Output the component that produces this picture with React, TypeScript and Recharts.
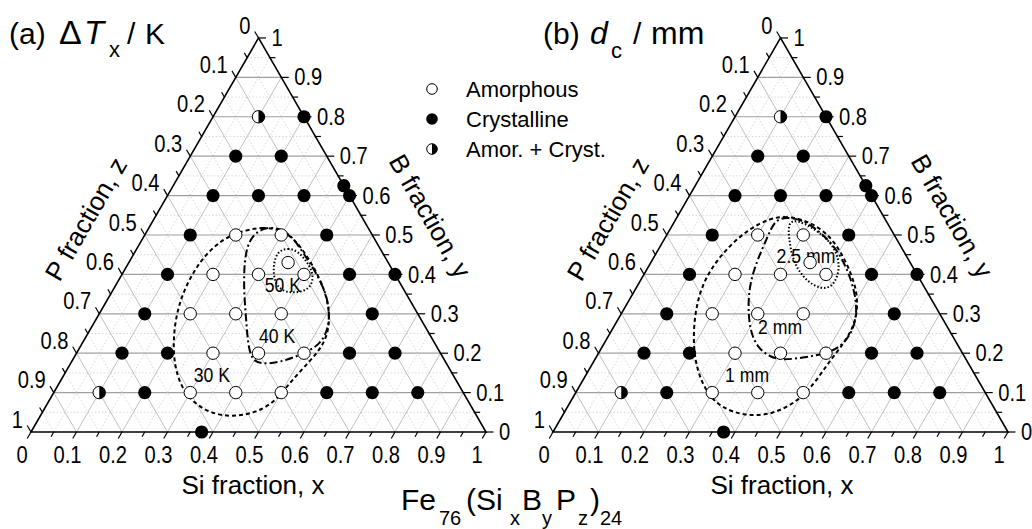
import React from 'react';
import { ScatterChart, Scatter, XAxis, YAxis, ReferenceLine } from 'recharts';

type Pair = [number, number]; // [Si fraction x, B fraction y]

// ---- sample compositions Fe76(SixByPz)24 ----
const amorphousSi = [0.2, 0.3, 0.35, 0.2, 0.3, 0.4, 0.2, 0.3, 0.4, 0.3, 0.4, 0.5, 0.3, 0.4, 0.5];
const amorphousB = [0.5, 0.5, 0.43, 0.4, 0.4, 0.4, 0.3, 0.3, 0.3, 0.2, 0.2, 0.2, 0.1, 0.1, 0.1];

const crystallineSi = [0.2, 0.1, 0.2, 0.375, 0.1, 0.2, 0.3, 0.4, 0.1, 0.4, 0.1, 0.5, 0.6, 0.1, 0.6, 0.1, 0.2, 0.6, 0.7, 0.2, 0.6, 0.7, 0.8, 0.375];
const crystallineB = [0.8, 0.7, 0.7, 0.625, 0.6, 0.6, 0.6, 0.6, 0.5, 0.5, 0.4, 0.4, 0.4, 0.3, 0.3, 0.2, 0.2, 0.2, 0.2, 0.1, 0.1, 0.1, 0.1, 0];

const mixedSi = [0.1, 0.1];
const mixedB = [0.8, 0.1];

// ---- axis ticks ----
const tickValues = [0, 0.1, 0.2, 0.3, 0.4, 0.5, 0.6, 0.7, 0.8, 0.9, 1];
const tickLabels = ['0', '0.1', '0.2', '0.3', '0.4', '0.5', '0.6', '0.7', '0.8', '0.9', '1'];

// ---- (a) ΔTx contours ----
const contour30K: Pair[] = [
  [0.198, 0.506], [0.247, 0.522], [0.303, 0.511], [0.355, 0.473], [0.408, 0.423], [0.462, 0.365],
  [0.505, 0.304], [0.530, 0.246], [0.530, 0.203], [0.517, 0.162], [0.505, 0.119], [0.498, 0.076],
  [0.468, 0.048], [0.423, 0.038], [0.369, 0.048], [0.318, 0.076], [0.273, 0.114], [0.230, 0.170],
  [0.196, 0.233], [0.171, 0.296], [0.157, 0.354], [0.154, 0.405], [0.158, 0.448], [0.174, 0.484],
];
const contour40K: Pair[] = [
  [0.256, 0.522], [0.297, 0.514], [0.332, 0.491], [0.378, 0.448], [0.424, 0.405], [0.471, 0.354],
  [0.507, 0.301], [0.525, 0.251], [0.522, 0.218], [0.494, 0.195], [0.459, 0.177], [0.422, 0.172],
  [0.395, 0.182], [0.367, 0.220], [0.331, 0.284], [0.295, 0.347], [0.263, 0.410], [0.242, 0.461],
  [0.236, 0.499],
];
const contour50K: Pair[] = [
  [0.312, 0.458], [0.331, 0.468], [0.358, 0.458], [0.387, 0.435], [0.413, 0.410], [0.429, 0.382],
  [0.428, 0.362], [0.410, 0.354], [0.385, 0.354], [0.359, 0.367], [0.339, 0.390], [0.321, 0.423],
];
const contourLabelsA = ['30 K', '40 K', '50 K'];
const contourAnchorsA: Pair[] = [[0.324, 0.147], [0.418, 0.246], [0.366, 0.375]];

// ---- (b) critical diameter contours ----
const contour1mm: Pair[] = [
  [0.206, 0.542], [0.234, 0.547], [0.268, 0.542], [0.310, 0.527], [0.357, 0.499], [0.400, 0.461],
  [0.443, 0.415], [0.484, 0.365], [0.513, 0.314], [0.527, 0.268], [0.527, 0.225], [0.518, 0.182],
  [0.514, 0.132], [0.502, 0.081], [0.460, 0.043], [0.400, 0.041], [0.341, 0.061], [0.294, 0.094],
  [0.241, 0.152], [0.195, 0.225], [0.160, 0.304], [0.141, 0.372], [0.141, 0.430], [0.154, 0.479],
  [0.175, 0.517],
];
const contour2mm: Pair[] = [
  [0.227, 0.544], [0.258, 0.544], [0.300, 0.529], [0.376, 0.479], [0.437, 0.418], [0.488, 0.352],
  [0.518, 0.301], [0.532, 0.251], [0.523, 0.215], [0.502, 0.200], [0.463, 0.190], [0.414, 0.182],
  [0.382, 0.190], [0.341, 0.215], [0.304, 0.258], [0.270, 0.317], [0.244, 0.377], [0.231, 0.435],
  [0.224, 0.494], [0.220, 0.527],
];
const contour25mm: Pair[] = [
  [0.249, 0.534], [0.276, 0.486], [0.310, 0.435], [0.350, 0.395], [0.389, 0.370], [0.419, 0.362],
  [0.431, 0.377], [0.423, 0.415], [0.396, 0.456], [0.357, 0.491], [0.310, 0.519], [0.270, 0.537],
];
const contourLabelsB = ['1 mm', '2 mm', '2.5 mm'];
const contourAnchorsB: Pair[] = [[0.353, 0.147], [0.365, 0.268], [0.332, 0.448]];

// ---- drawing geometry ----
const W = 1032;
const H = 529;
const SIDE = 455; // triangle side in px
const SQ3 = Math.sqrt(3) / 2;
const X0 = -31 / SIDE;
const X1 = X0 + W / SIDE;
const Y0 = -(H - 432) / SIDE;
const Y1 = Y0 + H / SIDE;
const PANEL_SHIFT = [0, 522 / SIDE];

const SANS = '"Liberation Sans", Arial, sans-serif';

const tern = (si: number, b: number, panel: number) => ({
  X: si + b / 2 + PANEL_SHIFT[panel],
  Y: b * SQ3,
});

type Seg = { a: { X: number; Y: number }; b: { X: number; Y: number }; major: boolean; horiz: boolean };

function gridSegments(panel: number): Seg[] {
  const out: Seg[] = [];
  for (let k = 1; k < 20; k++) {
    const v = k / 20;
    const major = k % 2 === 0;
    out.push({ a: tern(0, v, panel), b: tern(1 - v, v, panel), major, horiz: true });
    out.push({ a: tern(v, 0, panel), b: tern(v, 1 - v, panel), major, horiz: false });
    out.push({ a: tern(0, 1 - v, panel), b: tern(1 - v, 0, panel), major, horiz: false });
  }
  return out;
}

function tickSegments(panel: number): Seg[] {
  const out: Seg[] = [];
  for (let k = 0; k <= 20; k++) {
    const v = k / 20;
    const len = (k % 2 === 0 ? 7.5 : 5.5) / SIDE;
    const s = tern(v, 0, panel);
    out.push({ a: s, b: { X: s.X - 0.5 * len, Y: s.Y - SQ3 * len }, major: true, horiz: false });
    const r = tern(1 - v, v, panel);
    out.push({ a: r, b: { X: r.X + len, Y: r.Y }, major: true, horiz: false });
    const l = tern(0, 1 - v, panel);
    out.push({ a: l, b: { X: l.X - 0.5 * len, Y: l.Y + SQ3 * len }, major: true, horiz: false });
  }
  return out;
}

const pointsOf = (si: number[], b: number[], panel: number) => si.map((s, i) => tern(s, b[i], panel));
const loopOf = (pts: Pair[], panel: number) => pts.map(([s, b]) => tern(s, b, panel));

const OpenDot = (p: any) => <circle cx={p.cx} cy={p.cy} r={6.2} fill="#fff" stroke="#000" strokeWidth={1} />;
const FilledDot = (p: any) => <circle cx={p.cx} cy={p.cy} r={6.6} fill="#000" />;
const HalfDot = (p: any) => {
  const r = 6.2;
  return (
    <g>
      <circle cx={p.cx} cy={p.cy} r={r} fill="#fff" stroke="#000" strokeWidth={1} />
      <path d={`M ${p.cx} ${p.cy - r} A ${r} ${r} 0 0 1 ${p.cx} ${p.cy + r} Z`} fill="#000" />
    </g>
  );
};
const NoDot = () => <g />;

// condensed sans text, anchored at (x, y)
const NarrowText = ({ x, y, anchor, size, children }: any) => (
  <text
    transform={`translate(${x},${y}) scale(0.84,1)`}
    textAnchor={anchor}
    dominantBaseline="central"
    fontSize={size}
    fontFamily={SANS}
    fill="#000"
  >
    {children}
  </text>
);

const textShape = (dx: number, dy: number, anchor: string, size: number) => (p: any) => (
  <NarrowText x={p.cx + dx} y={p.cy + dy} anchor={anchor} size={size}>
    {p.payload.text}
  </NarrowText>
);

const bottomLabel = textShape(-9, 23, 'middle', 24);
const rightLabel = textShape(13, 0, 'start', 24);
const leftLabel = textShape(-8, -12.5, 'end', 24);
const contourLabel = textShape(0, 0, 'middle', 21);

function panelLayers(panel: number) {
  const grid = gridSegments(panel).map((g, i) => (
    <ReferenceLine
      key={`grid-${panel}-${i}`}
      segment={[{ x: g.a.X, y: g.a.Y }, { x: g.b.X, y: g.b.Y }]}
      stroke={g.major ? (g.horiz ? '#a0a0a0' : '#b0b0b0') : '#cdcdcd'}
      strokeWidth={g.major ? (g.horiz ? 1.2 : 0.8) : 0.8}
      strokeDasharray={g.major ? undefined : '1.5 2'}
      ifOverflow="visible"
    />
  ));
  const ticks = tickSegments(panel).map((g, i) => (
    <ReferenceLine
      key={`tick-${panel}-${i}`}
      segment={[{ x: g.a.X, y: g.a.Y }, { x: g.b.X, y: g.b.Y }]}
      stroke="#000"
      strokeWidth={1.2}
      ifOverflow="visible"
    />
  ));
  const frame = [tern(0, 0, panel), tern(1, 0, panel), tern(0, 1, panel)];
  const siTicks = tickValues.map((v, i) => ({ ...tern(v, 0, panel), text: tickLabels[i] }));
  const bTicks = tickValues.map((v, i) => ({ ...tern(1 - v, v, panel), text: tickLabels[i] }));
  const pTicks = tickValues.map((v, i) => ({ ...tern(0, 1 - v, panel), text: tickLabels[i] }));

  const loops = panel === 0
    ? [
        { pts: contour30K, dash: '4 3' },
        { pts: contour40K, dash: '8 3 2 3' },
        { pts: contour50K, dash: '1.5 2' },
      ]
    : [
        { pts: contour1mm, dash: '4 3' },
        { pts: contour2mm, dash: '8 3 2 3' },
        { pts: contour25mm, dash: '1.5 2' },
      ];
  const labels = (panel === 0 ? contourAnchorsA : contourAnchorsB).map(([s, b], i) => ({
    ...tern(s, b, panel),
    text: (panel === 0 ? contourLabelsA : contourLabelsB)[i],
  }));

  return [
    ...grid,
    ...ticks,
    <Scatter
      key={`frame-${panel}`}
      data={frame}
      shape={NoDot}
      line={{ stroke: '#000', strokeWidth: 1.6 }}
      lineJointType="linearClosed"
      isAnimationActive={false}
    />,
    <Scatter key={`si-${panel}`} data={siTicks} shape={bottomLabel} isAnimationActive={false} />,
    <Scatter key={`b-${panel}`} data={bTicks} shape={rightLabel} isAnimationActive={false} />,
    <Scatter key={`p-${panel}`} data={pTicks} shape={leftLabel} isAnimationActive={false} />,
    ...loops.map((l, i) => (
      <Scatter
        key={`loop-${panel}-${i}`}
        data={loopOf(l.pts, panel)}
        shape={NoDot}
        line={{ stroke: '#000', strokeWidth: 2, strokeDasharray: l.dash }}
        lineJointType="basisClosed"
        isAnimationActive={false}
      />
    )),
    <Scatter key={`lab-${panel}`} data={labels} shape={contourLabel} isAnimationActive={false} />,
    <Scatter key={`am-${panel}`} data={pointsOf(amorphousSi, amorphousB, panel)} shape={OpenDot} isAnimationActive={false} />,
    <Scatter key={`cr-${panel}`} data={pointsOf(crystallineSi, crystallineB, panel)} shape={FilledDot} isAnimationActive={false} />,
    <Scatter key={`mx-${panel}`} data={pointsOf(mixedSi, mixedB, panel)} shape={HalfDot} isAnimationActive={false} />,
  ];
}

const legendItems = ['Amorphous', 'Crystalline', 'Amor. + Cryst.'];

export default function App() {
  return (
    <div style={{ position: 'absolute', left: 0, top: 0, width: W, height: H, background: '#fff', overflow: 'hidden' }}>
      <ScatterChart width={W} height={H} margin={{ top: 0, right: 0, bottom: 0, left: 0 }}>
        <XAxis type="number" dataKey="X" domain={[X0, X1]} allowDataOverflow hide />
        <YAxis type="number" dataKey="Y" domain={[Y0, Y1]} allowDataOverflow hide />
        {panelLayers(0)}
        {panelLayers(1)}
      </ScatterChart>
      <svg
        width={W}
        height={H}
        style={{ position: 'absolute', left: 0, top: 0, pointerEvents: 'none' }}
        fontFamily={SANS}
      >
        {/* panel titles */}
        <text fontSize={30} y={44} fill="#000">
          <tspan x={9}>(a)</tspan>
          <tspan x={59} fontSize={34}>Δ</tspan>
          <tspan x={84} fontSize={33} fontStyle="italic">T</tspan>
          <tspan x={109} y={57} fontSize={22}>x</tspan>
          <tspan x={127} y={44}>/</tspan>
          <tspan x={145}>K</tspan>
        </text>
        <text fontSize={30} y={44} fill="#000">
          <tspan x={543}>(b)</tspan>
          <tspan x={590} fontSize={32} fontStyle="italic">d</tspan>
          <tspan x={611} y={58} fontSize={22}>c</tspan>
          <tspan x={633} y={44}>/</tspan>
          <tspan x={651} fontSize={32}>mm</tspan>
        </text>

        {/* legend */}
        <circle cx={432} cy={89} r={5.3} fill="#fff" stroke="#000" strokeWidth={1} />
        <circle cx={432} cy={119} r={5.8} fill="#000" />
        <circle cx={432} cy={149} r={5.3} fill="#fff" stroke="#000" strokeWidth={1} />
        <path d="M 432 143.7 A 5.3 5.3 0 0 1 432 154.3 Z" fill="#000" />
        {legendItems.map((t, i) => (
          <text key={t} x={466} y={89 + 30 * i} fontSize={22} dominantBaseline="central" fill="#000">{t}</text>
        ))}

        {/* axis titles */}
        {[0, 522].map((off) => (
          <g key={off}>
            <text x={253 + off + (off ? 7 : 0)} y={494} fontSize={26} textAnchor="middle" fill="#000">Si fraction, x</text>
            <text transform={`translate(${430 + off},216) rotate(60)`} fontSize={26} textAnchor="middle" dominantBaseline="central" fill="#000">B fraction, y</text>
            <text transform={`translate(${86 + off},219) rotate(-60)`} fontSize={26} textAnchor="middle" dominantBaseline="central" fill="#000">P fraction, z</text>
          </g>
        ))}

        {/* alloy formula */}
        <text fontSize={30} y={510} fill="#000">
          <tspan x={401}>Fe</tspan>
          <tspan x={439} y={525} fontSize={20}>76</tspan>
          <tspan x={466} y={510}>(</tspan>
          <tspan x={476}>Si</tspan>
          <tspan x={510} y={525} fontSize={20}>x</tspan>
          <tspan x={522} y={510}>B</tspan>
          <tspan x={542} y={525} fontSize={20}>y</tspan>
          <tspan x={556} y={510}>P</tspan>
          <tspan x={578} y={525} fontSize={20}>z</tspan>
          <tspan x={590} y={510}>)</tspan>
          <tspan x={600} y={525} fontSize={20}>24</tspan>
        </text>
      </svg>
    </div>
  );
}
